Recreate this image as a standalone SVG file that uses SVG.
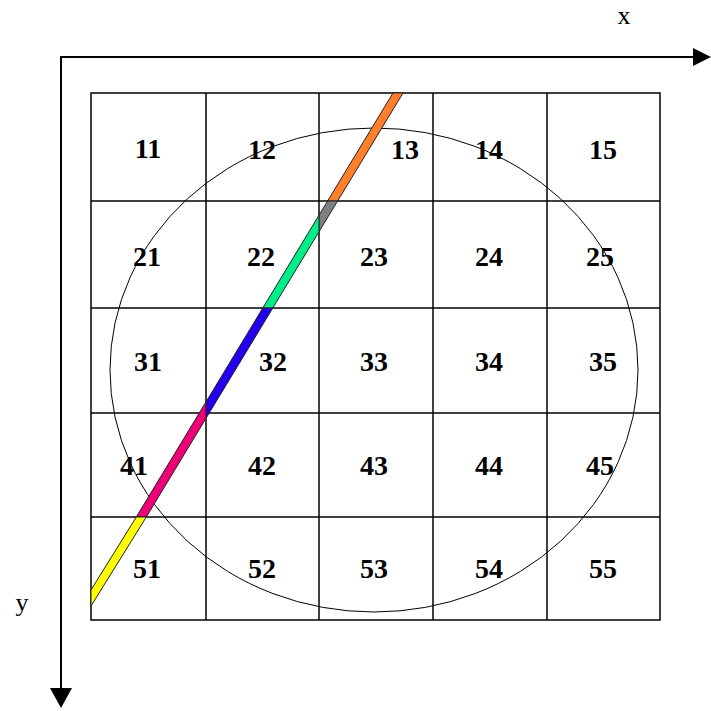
<svg xmlns="http://www.w3.org/2000/svg" width="711" height="711" viewBox="0 0 711 711">
<style>
.grid{fill:none;stroke:#000;stroke-width:1.5}
.axis{stroke:#000;stroke-width:2;fill:none}
.lbl{font-family:"Liberation Serif","Times New Roman",serif;font-weight:bold;font-size:28px;text-anchor:middle;fill:#000}
.ax{font-family:"Liberation Serif","Times New Roman",serif;font-size:26px;text-anchor:middle;fill:#000}
.seg{stroke:#222;stroke-width:1}
</style>
<rect width="711" height="711" fill="#fff"/>
<g id="axes">
<polyline class="axis" points="695,57 61,57 61,690"/>
<polygon points="693,48 711,57 693,66" fill="#000"/>
<polygon points="50,688 72,688 61,708" fill="#000"/>
<text class="ax" x="624" y="24">x</text>
<text class="ax" x="22" y="611">y</text>
</g>
<g id="grid">
<rect class="grid" x="91" y="93" width="569" height="527"/>
<line class="grid" x1="206" y1="93" x2="206" y2="620"/>
<line class="grid" x1="319" y1="93" x2="319" y2="620"/>
<line class="grid" x1="433" y1="93" x2="433" y2="620"/>
<line class="grid" x1="547" y1="93" x2="547" y2="620"/>
<line class="grid" x1="91" y1="201" x2="660" y2="201"/>
<line class="grid" x1="91" y1="308" x2="660" y2="308"/>
<line class="grid" x1="91" y1="413" x2="660" y2="413"/>
<line class="grid" x1="91" y1="517" x2="660" y2="517"/>
</g>
<g id="circle">
<ellipse cx="374" cy="370" rx="264" ry="242" fill="none" stroke="#000" stroke-width="1"/>
</g>
<g id="band">
<polygon class="seg" fill="#ff7f2a" points="393,93 403,93 337.6,201 327.6,201"/>
<polygon class="seg" fill="#808080" points="327.6,201 337.6,201 319,231.7 319,215.2"/>
<polygon class="seg" fill="#00ee88" points="319,215.2 319,231.7 272.8,308 262.8,308"/>
<polygon class="seg" fill="#2200ee" points="262.8,308 272.8,308 206,418.3 206,401.9"/>
<polygon class="seg" fill="#ee0077" points="206,401.9 206,418.3 146.3,517 136.3,517"/>
<polygon class="seg" fill="#ffff00" points="136.3,517 146.3,517 91,606 91,590"/>
</g>
<g id="labels">
<text class="lbl" x="148" y="158">11</text>
<text class="lbl" x="262" y="159">12</text>
<text class="lbl" x="405" y="159">13</text>
<text class="lbl" x="489" y="159">14</text>
<text class="lbl" x="603" y="159">15</text>
<text class="lbl" x="147" y="266">21</text>
<text class="lbl" x="261" y="266">22</text>
<text class="lbl" x="374" y="266">23</text>
<text class="lbl" x="489" y="266">24</text>
<text class="lbl" x="600" y="266">25</text>
<text class="lbl" x="148" y="371">31</text>
<text class="lbl" x="273" y="371">32</text>
<text class="lbl" x="374" y="371">33</text>
<text class="lbl" x="489" y="371">34</text>
<text class="lbl" x="603" y="371">35</text>
<text class="lbl" x="134" y="475">41</text>
<text class="lbl" x="262" y="475">42</text>
<text class="lbl" x="374" y="475">43</text>
<text class="lbl" x="489" y="475">44</text>
<text class="lbl" x="600" y="475">45</text>
<text class="lbl" x="147" y="578">51</text>
<text class="lbl" x="262" y="578">52</text>
<text class="lbl" x="374" y="578">53</text>
<text class="lbl" x="489" y="578">54</text>
<text class="lbl" x="603" y="578">55</text>
</g>
</svg>
